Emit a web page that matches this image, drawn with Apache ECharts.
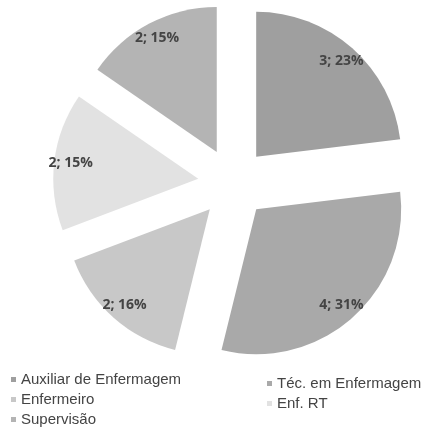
<!DOCTYPE html>
<html>
<head>
<meta charset="utf-8">
<script src="https://cdn.jsdelivr.net/npm/echarts@6/dist/echarts.min.js"></script>
<style>
html,body{margin:0;padding:0;background:#fff;}
#chart{width:430px;height:432px;}
</style>
</head>
<body>
<div id="chart"></div>
<script>
const categories = ['Auxiliar de Enfermagem', 'Téc. em Enfermagem', 'Enfermeiro', 'Enf. RT', 'Supervisão'];
const values = [3, 4, 2, 2, 2];
const sliceColors = ['#9f9f9f', '#a9a9a9', '#c8c8c8', '#e2e2e2', '#b4b4b4'];
const legendLeft = ['Auxiliar de Enfermagem', 'Enfermeiro', 'Supervisão'];
const legendRight = ['Téc. em Enfermagem', 'Enf. RT'];

const data = categories.map((n, i) => ({ name: n, value: values[i], selected: true, itemStyle: { color: sliceColors[i] } }));
const labelData = categories.map((n, i) => ({ name: n, value: values[i], selected: true }));

const legendText = { fontFamily: 'Liberation Sans', fontSize: 15, color: '#444' };
const chart = echarts.init(document.getElementById('chart'));
chart.setOption({
  animation: false,
  backgroundColor: '#fff',
  legend: [{
    data: legendLeft, orient: 'vertical', left: 11, top: 372, height: 120, padding: 0,
    itemWidth: 5, itemHeight: 5, itemGap: 5, icon: 'rect',
    textStyle: legendText, selectedMode: false
  }, {
    data: legendRight, orient: 'vertical', left: 267, top: 376, height: 120, padding: 0,
    itemWidth: 5, itemHeight: 5, itemGap: 5, icon: 'rect',
    textStyle: legendText, selectedMode: false
  }],
  series: [{
    type: 'pie', center: [233, 183], radius: 145, startAngle: 90, clockwise: true,
    selectedMode: 'multiple', selectedOffset: 35, silent: true, percentPrecision: 0,
    label: { show: false }, labelLine: { show: false },
    data: data
  }, {
    type: 'pie', center: [233, 183], radius: [106, 145], startAngle: 90, clockwise: true,
    selectedMode: 'multiple', selectedOffset: 35, silent: true, legendHoverLink: false, percentPrecision: 0,
    itemStyle: { color: 'rgba(0,0,0,0)' },
    label: { show: true, position: 'inside', formatter: '{c}; {d}%', fontFamily: 'Open Sans', fontWeight: 'bold', fontSize: 14, color: '#444' },
    labelLine: { show: false },
    data: labelData
  }]
});
</script>
</body>
</html>
